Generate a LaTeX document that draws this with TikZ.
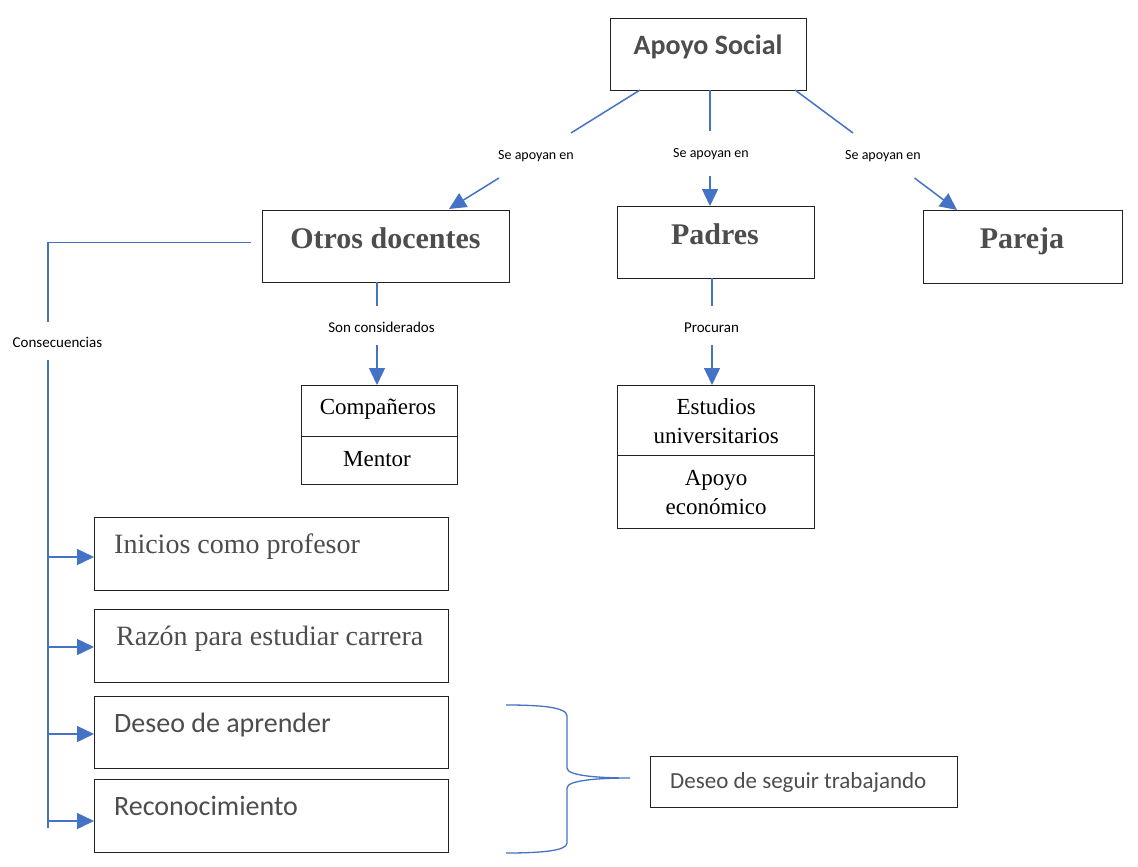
\documentclass[tikz,border=0pt]{standalone}
\usepackage{fontspec}
\setmainfont{Liberation Serif}
\newfontfamily\carl{Carlito}
\usetikzlibrary{arrows.meta}
\definecolor{lnblue}{HTML}{4472C4}
\definecolor{txtgray}{HTML}{4D4D4D}
\definecolor{boxline}{HTML}{222222}
\begin{document}
\begin{tikzpicture}[x=1pt,y=-1pt,
  box/.style={draw=boxline,line width=1.3pt,inner sep=0pt,anchor=north west,fill=white},
  conn/.style={draw=lnblue,line width=1.5pt},
  arr/.style={conn,-{Triangle[length=17pt,width=16pt]}},
  lbl/.style={inner sep=0pt,anchor=base,font=\carl\fontsize{14}{16}\selectfont},
  lblb/.style={inner sep=0pt,anchor=base,font=\carl\fontsize{15}{17}\selectfont},
  ttl/.style={inner sep=0pt,anchor=base,text=txtgray,font=\bfseries\fontsize{30}{34}\selectfont},
  big/.style={inner sep=0pt,anchor=base west,text=txtgray,font=\fontsize{28}{32}\selectfont},
  bigc/.style={inner sep=0pt,anchor=base west,text=txtgray,font=\carl\fontsize{28}{32}\selectfont},
  sub/.style={inner sep=0pt,align=center,font=\fontsize{23}{29}\selectfont}]
\useasboundingbox (0,0) rectangle (1138,867);

% boxes
\node[box,minimum width=196pt,minimum height=72pt] (apoyo) at (610,18) {};
\node[box,minimum width=247pt,minimum height=72pt] (otros) at (262,210) {};
\node[box,minimum width=197pt,minimum height=72pt] (padres) at (617,206) {};
\node[box,minimum width=199pt,minimum height=73pt] (pareja) at (923,210) {};
\node[box,minimum width=156pt,minimum height=51pt] (comp) at (301,385) {};
\node[box,minimum width=156pt,minimum height=48pt] (mentor) at (301,436) {};
\node[box,minimum width=197pt,minimum height=70pt,sub] (estud) at (617,385) {Estudios\\universitarios};
\node[box,minimum width=197pt,minimum height=73pt,sub] (apec) at (617,455) {Apoyo\\económico};
\node[box,minimum width=354pt,minimum height=73pt] (inic) at (94,517) {};
\node[box,minimum width=354pt,minimum height=73pt] (razon) at (94,609) {};
\node[box,minimum width=354pt,minimum height=72pt] (deseo) at (94,696) {};
\node[box,minimum width=354pt,minimum height=73pt] (recon) at (94,779) {};
\node[box,minimum width=307pt,minimum height=51pt] (seguir) at (650,756) {};

% box texts
\node[inner sep=0pt,anchor=base,text=txtgray,font=\carl\bfseries\fontsize{28}{32}\selectfont] (tapoyo) at (708,54.5) {Apoyo Social};
\node[ttl] (totros) at (385.5,248) {Otros docentes};
\node[ttl] (tpadres) at (715,244) {Padres};
\node[ttl] (tpareja) at (1022,248) {Pareja};
\node[inner sep=0pt,anchor=base,font=\fontsize{23}{27}\selectfont] (tcomp) at (378,414) {Compañeros};
\node[inner sep=0pt,anchor=base,font=\fontsize{23}{27}\selectfont] (tmentor) at (377,466) {Mentor};
\node[big] (tinic) at (114,553) {Inicios como profesor};
\node[big] (trazon) at (116,645) {Razón para estudiar carrera};
\node[bigc] (tdeseo) at (114,732) {Deseo de aprender};
\node[bigc] (trecon) at (114,815) {Reconocimiento};
\node[inner sep=0pt,anchor=base west,text=txtgray,font=\carl\fontsize{23}{27}\selectfont] (tseguir) at (670,788) {Deseo de seguir trabajando};

% connector labels
\node[lbl] (s1) at (536,159) {Se apoyan en};
\node[lbl] (s2) at (711,157.5) {Se apoyan en};
\node[lbl] (s3) at (883,159) {Se apoyan en};
\node[lblb] (s4) at (381.5,332) {Son considerados};
\node[lblb] (s5) at (711.5,332) {Procuran};
\node[lblb,anchor=base west] (s6) at (12.5,347) {Consecuencias};

% connector coordinates
\coordinate (a1) at (640,90);   \coordinate (a2) at (571,133);
\coordinate (a3) at (499,178);  \coordinate (a4) at (449,209);
\coordinate (b1) at (710,90);   \coordinate (b2) at (710,131);
\coordinate (b3) at (710,176);  \coordinate (b4) at (710,206);
\coordinate (c1) at (795,90);   \coordinate (c2) at (853,133);
\coordinate (c3) at (914.5,178);\coordinate (c4) at (957,210);
\coordinate (d1) at (377,282);  \coordinate (d2) at (377,306);
\coordinate (d3) at (377,345);  \coordinate (d4) at (377,385);
\coordinate (e1) at (712,278);  \coordinate (e2) at (712,306);
\coordinate (e3) at (712,345);  \coordinate (e4) at (712,385);
\coordinate (f1) at (251,242.7);\coordinate (f2) at (48,242.7);
\coordinate (f3) at (48,322);   \coordinate (f4) at (48,360);
\coordinate (f5) at (48,828);
\coordinate (g1) at (48,557);   \coordinate (g2) at (48,647);
\coordinate (g3) at (48,734);   \coordinate (g4) at (48,821);

\draw[conn] (a1) -- (a2);  \draw[arr] (a3) -- (a4);
\draw[conn] (b1) -- (b2);  \draw[arr] (b3) -- (b4);
\draw[conn] (c1) -- (c2);  \draw[arr] (c3) -- (c4);
\draw[conn] (d1) -- (d2);  \draw[arr] (d3) -- (d4);
\draw[conn] (e1) -- (e2);  \draw[arr] (e3) -- (e4);
\draw[conn] (f1) -- (f2) -- (f3);
\draw[conn] (f4) -- (f5);
\draw[arr] (g1) -- (g1 -| inic.west);
\draw[arr] (g2) -- (g2 -| razon.west);
\draw[arr] (g3) -- (g3 -| deseo.west);
\draw[arr] (g4) -- (g4 -| recon.west);

% brace
\draw[lnblue,line width=1.3pt] (506,705) .. controls (540,705) and (567,707) .. (567,716)
  -- (567,768) .. controls (567,776) and (600,778) .. (630,778)
  .. controls (600,778) and (567,780) .. (567,788)
  -- (567,843) .. controls (567,851) and (540,853) .. (506,853);
\end{tikzpicture}
\end{document}
